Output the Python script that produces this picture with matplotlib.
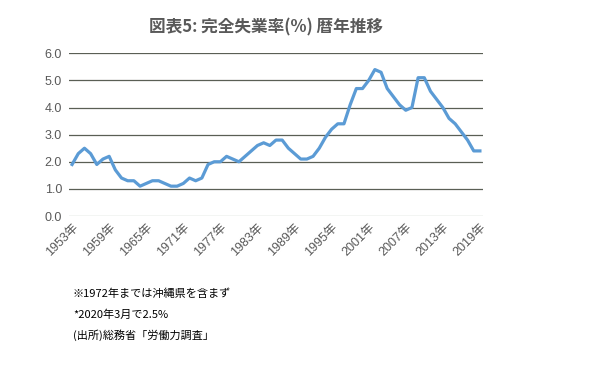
import matplotlib
matplotlib.use("Agg")
import matplotlib.pyplot as plt

plt.rcParams['font.family'] = ['Noto Sans CJK JP', 'DejaVu Sans']

years = list(range(1953, 2020))
rates = [1.9, 2.3, 2.5, 2.3, 1.9, 2.1, 2.2, 1.7, 1.4, 1.3,
         1.3, 1.1, 1.2, 1.3, 1.3, 1.2, 1.1, 1.1, 1.2, 1.4,
         1.3, 1.4, 1.9, 2.0, 2.0, 2.2, 2.1, 2.0, 2.2, 2.4,
         2.6, 2.7, 2.6, 2.8, 2.8, 2.5, 2.3, 2.1, 2.1, 2.2,
         2.5, 2.9, 3.2, 3.4, 3.4, 4.1, 4.7, 4.7, 5.0, 5.4,
         5.3, 4.7, 4.4, 4.1, 3.9, 4.0, 5.1, 5.1, 4.6, 4.3,
         4.0, 3.6, 3.4, 3.1, 2.8, 2.4, 2.4]
tick_years = list(range(1953, 2020, 6))
tick_labels = [f"{y}年" for y in tick_years]
y_ticks = [0, 1, 2, 3, 4, 5, 6]
title = "図表5: 完全失業率(%) 暦年推移"
notes = ["※1972年までは沖縄県を含まず",
         "*2020年3月で2.5%",
         "(出所)総務省「労働力調査」"]

fig = plt.figure(figsize=(5.93, 3.73), dpi=100)
ax = fig.add_axes([69/593, 1-216/373, 414/593, (216-53.3)/373])

for v in y_ticks[1:]:
    ax.axhline(v, color='#5a5f55', lw=0.9, zorder=1)
ax.axhline(0, color='#c5cdc5', lw=1.0, zorder=1)

ax.plot(years, rates, color='#5B9BD5', lw=2.3, zorder=3, solid_joinstyle='round')

ax.set_xlim(1952.5, 2019.5)
ax.set_ylim(0, 6)
ax.set_yticks(y_ticks)
ax.set_yticklabels([f"{v:.1f}" for v in y_ticks], color='#595959', fontsize=9,
                   family=['Liberation Sans', 'DejaVu Sans'])
ax.set_xticks(tick_years)
ax.set_xticklabels(tick_labels, rotation=45, ha='right', rotation_mode='anchor',
                   color='#595959', fontsize=9,
                   family=['Liberation Sans', 'Noto Sans CJK JP'])
ax.tick_params(axis='both', length=0, pad=5)
ax.tick_params(axis='x', pad=4)
for s in ax.spines.values():
    s.set_visible(False)

fig.text(266/593, 1-27/373, title, ha='center', va='center',
         fontsize=12, fontweight='bold', color='#595959')

for i, n in enumerate(notes):
    fig.text(73/593, 1-(294+20.5*i)/373, n, ha='left', va='center',
             fontsize=8, color='black')

fig.savefig('out.png', dpi=100)
